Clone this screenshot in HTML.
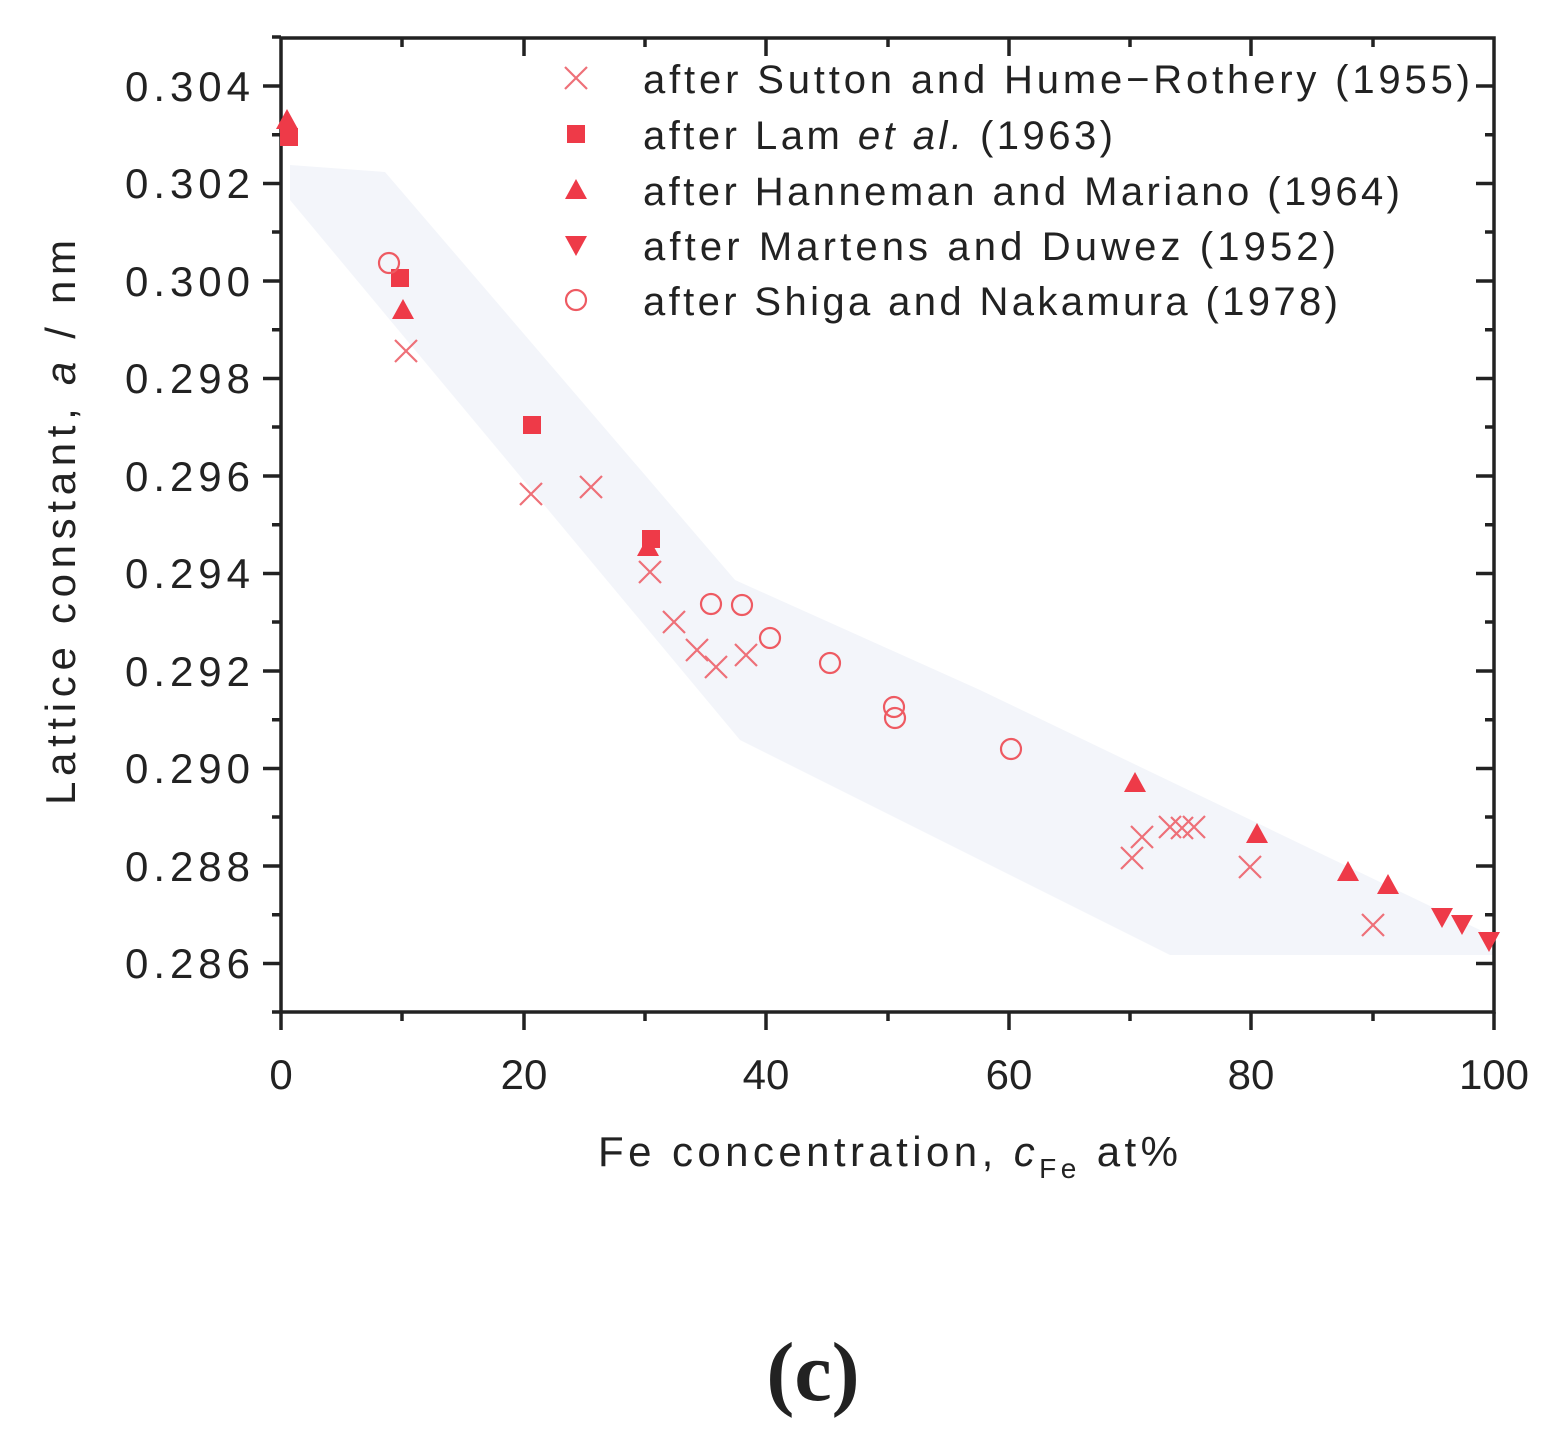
<!DOCTYPE html>
<html><head><meta charset="utf-8"><style>
html,body{margin:0;padding:0;background:#fff;}
svg{display:block;}
text{font-family:"Liberation Sans",sans-serif;fill:#222;}
</style></head><body>
<svg width="1563" height="1445" viewBox="0 0 1563 1445" xmlns="http://www.w3.org/2000/svg">
<defs>
<g id="x"><path d="M-11,-11L11,11M-11,11L11,-11" stroke="#ee7078" stroke-width="2.2" fill="none"/></g>
<g id="sq"><rect x="-9" y="-9" width="18" height="18" fill="#ee3a48"/></g>
<g id="tu"><path d="M0,-11L11,9L-11,9Z" fill="#ee3a48"/></g>
<g id="td"><path d="M0,11L11,-9L-11,-9Z" fill="#ee3a48"/></g>
<g id="ci"><circle r="10" fill="none" stroke="#ee5a62" stroke-width="2.2"/></g>
</defs>
<polygon points="290,165 385,172 735,580 980,690 1480,930 1494,955 1170,955 740,740 290,200" fill="#f3f5fa"/>
<rect x="281" y="38" width="1213" height="974" fill="none" stroke="#222" stroke-width="3.5"/>
<g stroke="#222" stroke-width="3.5">
<path d="M263,86H281M263,183.5H281M263,281H281M263,378.5H281M263,476H281M263,573.5H281M263,671H281M263,768.5H281M263,866H281M263,963.5H281"/>
<path d="M1476,86H1494M1476,183.5H1494M1476,281H1494M1476,378.5H1494M1476,476H1494M1476,573.5H1494M1476,671H1494M1476,768.5H1494M1476,866H1494M1476,963.5H1494"/>
<path d="M272,37H281M272,134.7H281M272,232H281M272,329.7H281M272,427H281M272,524.7H281M272,622H281M272,719.7H281M272,817H281M272,914.7H281M272,1012H281"/>
<path d="M1485,134.7H1494M1485,232H1494M1485,329.7H1494M1485,427H1494M1485,524.7H1494M1485,622H1494M1485,719.7H1494M1485,817H1494M1485,914.7H1494"/>
<path d="M281,1012V1030M524,1012V1030M766,1012V1030M1009,1012V1030M1251,1012V1030M1494,1012V1030"/>
<path d="M402,1012V1021M645,1012V1021M888,1012V1021M1130,1012V1021M1373,1012V1021"/>
<path d="M524,38V56M766,38V56M1009,38V56M1251,38V56"/>
<path d="M402,38V47M645,38V47M888,38V47M1130,38V47M1373,38V47"/>
</g>
<g font-size="42">
<text x="125" y="101" textLength="125">0.304</text><text x="125" y="198" textLength="125">0.302</text><text x="125" y="296" textLength="125">0.300</text>
<text x="125" y="393" textLength="125">0.298</text><text x="125" y="491" textLength="125">0.296</text><text x="125" y="588" textLength="125">0.294</text>
<text x="125" y="686" textLength="125">0.292</text><text x="125" y="783" textLength="125">0.290</text><text x="125" y="881" textLength="125">0.288</text>
<text x="125" y="978" textLength="125">0.286</text>
</g>
<g font-size="42" text-anchor="middle">
<text x="281" y="1089">0</text><text x="524" y="1089">20</text><text x="766" y="1089">40</text>
<text x="1009" y="1089">60</text><text x="1251" y="1089">80</text><text x="1494" y="1089">100</text>
</g>
<text x="598" y="1166" font-size="42" textLength="580">Fe concentration, <tspan font-style="italic">c</tspan><tspan font-size="28" dy="12">Fe</tspan><tspan dy="-12"> at%</tspan></text>
<text transform="translate(75,805) rotate(-90)" font-size="42" textLength="565">Lattice constant, <tspan font-style="italic">a</tspan> / nm</text>
<use href="#x" x="576" y="78"/><use href="#sq" x="576" y="134"/><use href="#tu" x="576" y="190"/><use href="#td" x="576" y="245"/><use href="#ci" x="576" y="300"/>
<g font-size="40">
<text x="643" y="93" textLength="827">after Sutton and Hume−Rothery (1955)</text>
<text x="643" y="149" textLength="470">after Lam <tspan font-style="italic">et al.</tspan> (1963)</text>
<text x="643" y="205" textLength="757">after Hanneman and Mariano (1964)</text>
<text x="643" y="260" textLength="693">after Martens and Duwez (1952)</text>
<text x="643" y="315" textLength="695">after Shiga and Nakamura (1978)</text>
</g>
<use href="#x" x="406" y="351"/><use href="#x" x="531" y="494"/><use href="#x" x="591" y="487"/><use href="#x" x="650" y="572"/>
<use href="#x" x="674" y="622"/><use href="#x" x="697" y="650"/><use href="#x" x="716" y="667"/><use href="#x" x="746" y="655"/>
<use href="#x" x="1132" y="858"/><use href="#x" x="1142" y="837"/><use href="#x" x="1170" y="827"/><use href="#x" x="1182" y="828"/>
<use href="#x" x="1194" y="827"/><use href="#x" x="1250" y="867"/><use href="#x" x="1373" y="925"/>
<use href="#sq" x="289" y="137"/><use href="#sq" x="400" y="278"/><use href="#sq" x="532" y="425"/><use href="#sq" x="651" y="539"/>
<use href="#tu" x="287" y="120"/><use href="#tu" x="403" y="310"/><use href="#tu" x="648" y="547"/><use href="#tu" x="1135" y="783"/>
<use href="#tu" x="1257" y="834"/><use href="#tu" x="1348" y="872"/><use href="#tu" x="1388" y="885"/>
<use href="#td" x="1442" y="917"/><use href="#td" x="1462" y="924"/><use href="#td" x="1489" y="941"/>
<use href="#ci" x="389" y="263"/><use href="#ci" x="711" y="604"/><use href="#ci" x="742" y="605"/><use href="#ci" x="770" y="638"/>
<use href="#ci" x="830" y="663"/><use href="#ci" x="894" y="707"/><use href="#ci" x="895" y="718"/><use href="#ci" x="1011" y="749"/>
<text x="813" y="1400" font-size="84" font-weight="bold" text-anchor="middle" style="font-family:'Liberation Serif',serif">(c)</text>
</svg>
</body></html>
